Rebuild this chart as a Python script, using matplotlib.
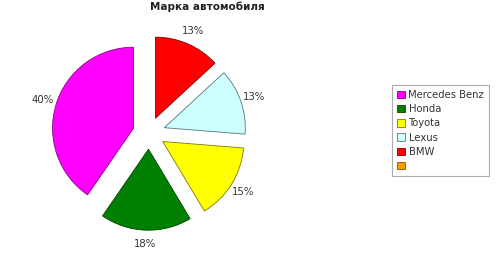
import matplotlib.pyplot as plt
from matplotlib.patches import Patch

# data
brands = ['Mercedes Benz', 'Honda', 'Toyota', 'Lexus', 'BMW', '']
shares = [40, 18, 15, 13, 13, 0]
colors = ['#ff00ff', '#008000', '#ffff00', '#ccffff', '#ff0000', '#ff9900']
edges = ['#8a008a', '#004000', '#7a7a00', '#557777', '#800000', '#8a5200']

W, H = 500, 259
R = 81.0           # pie radius in px
cx, cy = 149, 259 - 133

fig = plt.figure(figsize=(W / 100, H / 100), dpi=100)
ax = fig.add_axes([0, 0, 300 / W, 1])

def fmt(p):
    return f'{p:.0f}%' if p >= 0.5 else ''

wedges, texts, autotexts = ax.pie(
    shares, colors=colors, startangle=90, counterclock=True,
    explode=[0.2] * len(shares), autopct=fmt, pctdistance=1.17,
    wedgeprops=dict(linewidth=0.6),
    textprops=dict(fontsize=7.3, color='#333333'))
for w, ec, s in zip(wedges, edges, shares):
    w.set_edgecolor(ec)
    if s == 0:
        w.set_linewidth(0)

# pie() resets the limits, so fix the scale afterwards
ax.set_xlim(-cx / R, (300 - cx) / R)
ax.set_ylim(-cy / R, (H - cy) / R)
ax.set_aspect('auto')
ax.axis('off')

fig.text(207 / W, 1 - 7 / H, 'Марка автомобиля', ha='center', va='center',
         fontsize=7.5, fontweight='bold', color='#222222')

handles = [Patch(facecolor=c, edgecolor=e, linewidth=0.6) for c, e in zip(colors, edges)]
leg = fig.legend(handles, brands, loc='upper left',
                 bbox_to_anchor=(392 / W, 1 - 85 / H), frameon=True,
                 fancybox=False, fontsize=7.2, handlelength=0.75, handleheight=0.75,
                 handletextpad=0.4, labelspacing=0.42, borderpad=0.5,
                 borderaxespad=0)
leg.get_frame().set_edgecolor('#999999')
leg.get_frame().set_linewidth(0.8)
for t in leg.get_texts():
    t.set_color('#333333')

fig.savefig('out.png', dpi=100)
